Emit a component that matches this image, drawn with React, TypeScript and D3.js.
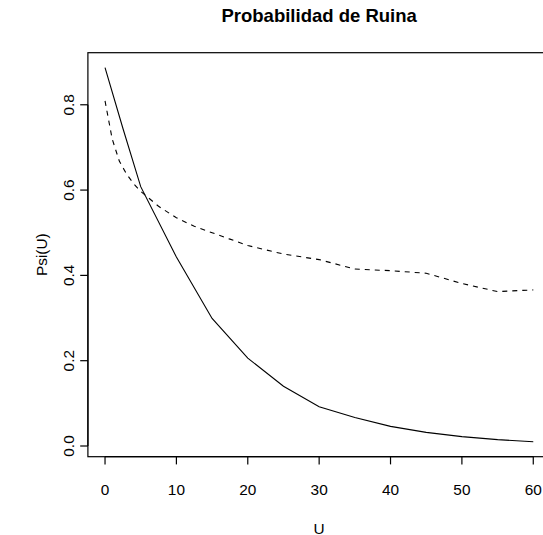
import React from "react";
import * as d3 from "d3";

const uSolid = [0, 2.5, 5, 10, 15, 20, 25, 30, 35, 40, 45, 50, 55, 60];
const psiSolid = [0.887, 0.745, 0.608, 0.443, 0.299, 0.206, 0.14, 0.092, 0.067, 0.046, 0.032, 0.022, 0.015, 0.01];
const uDashed = [0, 1, 2, 3, 4, 5, 7.5, 10, 12.5, 15, 17.5, 20, 25, 30, 35, 40, 45, 50, 55, 60];
const psiDashed = [0.809, 0.72, 0.668, 0.638, 0.615, 0.597, 0.562, 0.535, 0.515, 0.5, 0.485, 0.47, 0.45, 0.437, 0.415, 0.411, 0.405, 0.381, 0.362, 0.366];
const xTicks = [0, 10, 20, 30, 40, 50, 60];
const yTicks = [0, 0.2, 0.4, 0.6, 0.8];
const title = "Probabilidad de Ruina";
const xLabel = "U";
const yLabel = "Psi(U)";

export default function App() {
  const W = 543, H = 535;
  const left = 87.9, right = 550.4, top = 52.7, bottom = 456.7;
  const xmin = 0, xmax = 60;
  const ymin = d3.min(psiSolid.concat(psiDashed)) as number;
  const ymax = d3.max(psiSolid.concat(psiDashed)) as number;
  const xe = (xmax - xmin) * 0.04;
  const ye = (ymax - ymin) * 0.04;
  const x = d3.scaleLinear().domain([xmin - xe, xmax + xe]).range([left, right]);
  const y = d3.scaleLinear().domain([ymin - ye, ymax + ye]).range([bottom, top]);
  const line = d3.line<[number, number]>().x((d) => x(d[0])).y((d) => y(d[1]));
  const solid = line(uSolid.map((u, i) => [u, psiSolid[i]]));
  const dashed = line(uDashed.map((u, i) => [u, psiDashed[i]]));
  const font = "'Liberation Sans', Arial, Helvetica, sans-serif";
  const tl = 7.7;
  const fs = 15.4;
  return (
    <svg width={W} height={H} style={{ position: "absolute", left: 0, top: 0, background: "#fff" }} fontFamily={font}>
      <rect x={0} y={0} width={W} height={H} fill="#fff" />
      <text x={(left + right) / 2} y={21.7} textAnchor="middle" fontWeight="bold" fontSize={18.5}>{title}</text>
      <rect x={left} y={top} width={right - left} height={bottom - top} fill="none" stroke="#000" strokeWidth={1.2} />
      <path d={solid || ""} fill="none" stroke="#000" strokeWidth={1.1} />
      <path d={dashed || ""} fill="none" stroke="#000" strokeWidth={1.1} strokeDasharray="5,5" />
      {/* x axis */}
      <line x1={x(xTicks[0])} x2={x(xTicks[xTicks.length - 1])} y1={bottom} y2={bottom} stroke="#000" strokeWidth={1.2} />
      {xTicks.map((t) => (
        <g key={"x" + t}>
          <line x1={x(t)} x2={x(t)} y1={bottom} y2={bottom + tl} stroke="#000" strokeWidth={1.2} />
          <text x={x(t)} y={494.7} textAnchor="middle" fontSize={fs}>{String(t)}</text>
        </g>
      ))}
      {/* y axis */}
      <line x1={left} x2={left} y1={y(yTicks[0])} y2={y(yTicks[yTicks.length - 1])} stroke="#000" strokeWidth={1.2} />
      {yTicks.map((t) => (
        <g key={"y" + t}>
          <line x1={left - tl} x2={left} y1={y(t)} y2={y(t)} stroke="#000" strokeWidth={1.2} />
          <text transform={`translate(74,${y(t)}) rotate(-90)`} textAnchor="middle" fontSize={fs}>{t.toFixed(1)}</text>
        </g>
      ))}
      <text x={(left + right) / 2} y={533.5} textAnchor="middle" fontSize={fs}>{xLabel}</text>
      <text transform={`translate(46.7,${(top + bottom) / 2}) rotate(-90)`} textAnchor="middle" fontSize={fs}>{yLabel}</text>
    </svg>
  );
}
